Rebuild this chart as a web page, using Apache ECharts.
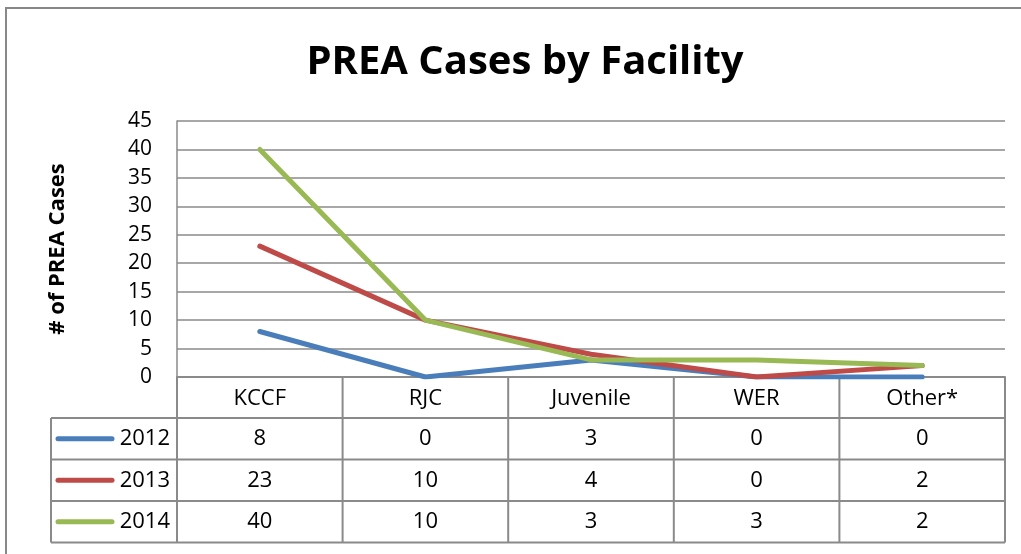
<!DOCTYPE html>
<html>
<head>
<meta charset="utf-8">
<script src="https://cdn.jsdelivr.net/npm/echarts@6/dist/echarts.min.js"></script>
<style>
  html, body { margin: 0; padding: 0; background: #fff; }
  #chart { width: 1021px; height: 554px; }
</style>
</head>
<body>
<div id="chart"></div>
<script>
var categories = ["KCCF", "RJC", "Juvenile", "WER", "Other*"];
var years = ["2012", "2013", "2014"];
var cases2012 = [8, 0, 3, 0, 0];
var cases2013 = [23, 10, 4, 0, 2];
var cases2014 = [40, 10, 3, 3, 2];
var yMin = 0, yMax = 45, yStep = 5;

var allCases = [cases2012, cases2013, cases2014];
var colors = ["#4a7ebb", "#be4b48", "#98b954"];
var font = "Open Sans";
var gridColor = "#8a8a8a";

var chart = echarts.init(document.getElementById("chart"), null);

var option = {
  animation: false,
  title: {
    text: "PREA Cases by Facility",
    left: 520,
    top: 38,
    textAlign: "center",
    textStyle: { fontFamily: font, fontWeight: "bold", fontSize: 40, color: "#000" }
  },
  grid: { left: 177, right: 16, top: 121, bottom: 177 },
  xAxis: {
    type: "category",
    data: categories,
    boundaryGap: true,
    axisLine: { show: true, lineStyle: { color: gridColor, width: 2 } },
    axisTick: { show: false },
    axisLabel: { show: false },
    splitLine: { show: false }
  },
  yAxis: {
    type: "value",
    min: yMin,
    max: yMax,
    interval: yStep,
    name: "# of PREA Cases",
    nameLocation: "middle",
    nameGap: 108,
    nameTextStyle: { fontFamily: font, fontWeight: "bold", fontSize: 22, color: "#000" },
    axisLine: { show: true, lineStyle: { color: gridColor, width: 1.5 } },
    axisTick: { show: false },
    axisLabel: { fontFamily: font, fontSize: 21, color: "#000", margin: 25 },
    splitLine: { show: true, lineStyle: { color: gridColor, width: 1.5 } }
  },
  series: allCases.map(function (d, i) {
    return {
      name: years[i],
      type: "line",
      data: d,
      symbol: "none",
      lineStyle: { color: colors[i], width: 5, cap: "round" }
    };
  })
};
chart.setOption(option);

// data table under the plot, positioned from the axes
var cx0 = chart.convertToPixel({ xAxisIndex: 0 }, 0);
var cx1 = chart.convertToPixel({ xAxisIndex: 0 }, 1);
var colW = cx1 - cx0;
var tblLeft = cx0 - colW / 2;
var tblRight = tblLeft + colW * categories.length;
var tblTop = chart.convertToPixel({ yAxisIndex: 0 }, yMin);
var headH = 41;
var rowH = 41.5;
var legLeft = 51;
var tblBottom = tblTop + headH + rowH * years.length;

var g = [];
function addLine(xa, ya, xb, yb) {
  g.push({ type: "line", shape: { x1: xa, y1: ya, x2: xb, y2: yb }, style: { stroke: gridColor, lineWidth: 2 }, silent: true });
}
function addText(x, y, s, align, size) {
  g.push({ type: "text", x: x, y: y, style: { text: s, fontFamily: font, fontSize: size || 21, fill: "#000", align: align || "center", verticalAlign: "middle" }, silent: true });
}

// outer frame
g.push({ type: "rect", shape: { x: 6, y: 8, width: 1030, height: 560 }, style: { fill: null, stroke: "#888", lineWidth: 2 }, silent: true });

// verticals
for (var c = 0; c <= categories.length; c++) {
  addLine(tblLeft + c * colW, tblTop, tblLeft + c * colW, tblBottom);
}
addLine(legLeft, tblTop + headH, legLeft, tblBottom);
// horizontals
for (var r = 0; r <= years.length; r++) {
  addLine(legLeft, tblTop + headH + r * rowH, tblRight, tblTop + headH + r * rowH);
}

categories.forEach(function (cat, i) {
  addText(tblLeft + (i + 0.5) * colW, tblTop + headH / 2 + 1, cat, "center", 22);
});
years.forEach(function (yr, k) {
  var cy = tblTop + headH + (k + 0.5) * rowH;
  g.push({ type: "line", shape: { x1: 58, y1: cy, x2: 112, y2: cy }, style: { stroke: colors[k], lineWidth: 5, lineCap: "round" }, silent: true });
  addText(170, cy, yr, "right", 22);
  allCases[k].forEach(function (v, i) {
    addText(tblLeft + (i + 0.5) * colW, cy, String(v), "center", 22);
  });
});

chart.setOption({ graphic: g });
</script>
</body>
</html>
